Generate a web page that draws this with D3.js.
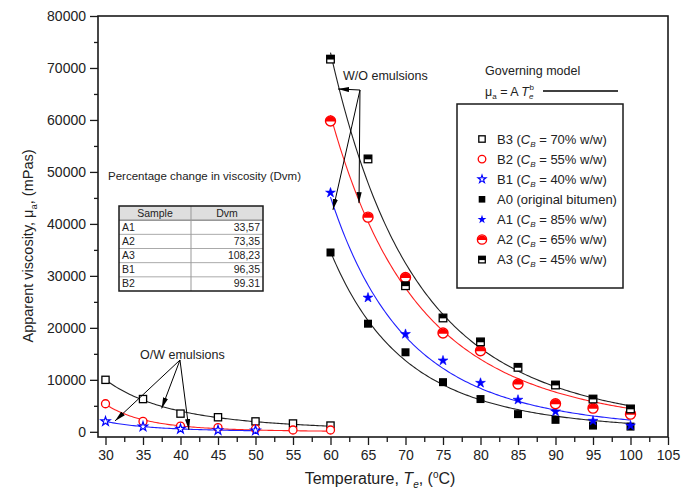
<!DOCTYPE html>
<html>
<head>
<meta charset="utf-8">
<script src="https://cdn.jsdelivr.net/npm/d3@7"></script>
<style>
  html, body { margin: 0; padding: 0; background: #fff; }
  svg { display: block; font-family: "Liberation Sans", Arial, sans-serif; }
</style>
</head>
<body>
<svg id="chart" width="681" height="493"></svg>
<script>
// ---------------- data ----------------
const T_OW = [30, 35, 40, 45, 50, 55, 60];
const T_B1 = [30, 35, 40, 45, 50];
const T_WO = [60, 65, 70, 75, 80, 85, 90, 95, 100];

const B3 = [10000, 6300, 3500, 2800, 2000, 1600, 1200];
const B2 = [5400, 2000, 1100, 800, 550, 350, 350];
const B1 = [2000, 1000, 550, 300, 250];

const A0 = [34500, 20800, 15300, 9550, 6300, 3400, 2300, 1200, 1000];
const A1 = [46000, 25800, 18800, 13700, 9400, 6150, 3900, 2100, 1200];
const A2 = [59800, 41300, 29700, 19000, 15600, 9200, 5400, 4550, 3400];
const A3 = [71700, 52500, 28100, 21900, 17300, 12400, 9000, 6300, 4400];

const xTicks = [30, 35, 40, 45, 50, 55, 60, 65, 70, 75, 80, 85, 90, 95, 100, 105];
const yTicks = [0, 10000, 20000, 30000, 40000, 50000, 60000, 70000, 80000];

const legendLabels = [
  { id: "B3", pre: "B3 (", cb: true, post: " = 70% w/w)" },
  { id: "B2", pre: "B2 (", cb: true, post: " = 55% w/w)" },
  { id: "B1", pre: "B1 (", cb: true, post: " = 40% w/w)" },
  { id: "A0", pre: "A0 (original bitumen)", cb: false, post: "" },
  { id: "A1", pre: "A1 (", cb: true, post: " = 85% w/w)" },
  { id: "A2", pre: "A2 (", cb: true, post: " = 65% w/w)" },
  { id: "A3", pre: "A3 (", cb: true, post: " = 45% w/w)" }
];

const tableSamples = ["A1", "A2", "A3", "B1", "B2"];
const tableDvm = ["33,57", "73,35", "108,23", "96,35", "99.31"];

// ---------------- setup ----------------
const svg = d3.select("#chart");
const L = 98, R = 668, T = 16, B = 437;
const x = d3.scaleLinear().domain([29, 105]).range([L, R]);
const y = d3.scaleLinear().domain([-1000, 80000]).range([B, T]);
const ink = "#1a1a1a";

// ---------------- power-law fit (nonlinear LSQ) ----------------
function fitPower(xs, ys) {
  const n = xs.length;
  const lx = xs.map(Math.log), ly = ys.map(Math.log);
  const mx = d3.mean(lx), my = d3.mean(ly);
  let b = d3.sum(lx.map((v, i) => (v - mx) * (ly[i] - my))) / d3.sum(lx.map(v => (v - mx) ** 2));
  let la = my - b * mx;
  const sse = (la, b) => d3.sum(xs.map((t, i) => (ys[i] - Math.exp(la + b * Math.log(t))) ** 2));
  let lam = 1e-3, cur = sse(la, b);
  for (let it = 0; it < 500; it++) {
    let a11 = 0, a12 = 0, a22 = 0, g1 = 0, g2 = 0;
    for (let i = 0; i < n; i++) {
      const f = Math.exp(la + b * lx[i]);
      const j1 = f, j2 = f * lx[i], r = ys[i] - f;
      a11 += j1 * j1; a12 += j1 * j2; a22 += j2 * j2; g1 += j1 * r; g2 += j2 * r;
    }
    const m11 = a11 * (1 + lam), m22 = a22 * (1 + lam);
    const det = m11 * m22 - a12 * a12;
    const d1 = (g1 * m22 - a12 * g2) / det, d2 = (m11 * g2 - a12 * g1) / det;
    const nla = la + d1, nb = b + d2, ns = sse(nla, nb);
    if (ns < cur) { la = nla; b = nb; cur = ns; lam *= 0.3; } else { lam *= 10; }
    if (lam > 1e12) break;
  }
  return t => Math.exp(la + b * Math.log(t));
}

function drawFit(xs, ys, color) {
  const f = fitPower(xs, ys);
  const ts = d3.range(xs[0], xs[xs.length - 1] + 0.001, 0.25);
  svg.append("path")
    .datum(ts)
    .attr("fill", "none")
    .attr("stroke", color)
    .attr("stroke-width", 1.1)
    .attr("d", d3.line().x(t => x(t)).y(t => y(f(t))));
}

// ---------------- marker drawers ----------------
const markers = {
  B3: g => g.append("rect").attr("x", -3.6).attr("y", -3.6).attr("width", 7.2).attr("height", 7.2)
            .attr("fill", "#fff").attr("stroke", "#000").attr("stroke-width", 1.3),
  B2: g => g.append("circle").attr("r", 4).attr("fill", "#fff").attr("stroke", "#ff0000").attr("stroke-width", 1.3),
  B1: g => g.append("path").attr("d", d3.symbol(d3.symbolStar, 26)()).attr("fill", "#fff")
            .attr("stroke", "#0000ff").attr("stroke-width", 1.2),
  A0: g => g.append("rect").attr("x", -4).attr("y", -4).attr("width", 8).attr("height", 8).attr("fill", "#000"),
  A1: g => g.append("path").attr("d", d3.symbol(d3.symbolStar, 30)()).attr("fill", "#0000ff").attr("stroke", "#0000ff").attr("stroke-width", 0.6),
  A2: g => {
    g.append("circle").attr("r", 5).attr("fill", "#fff").attr("stroke", "#ff0000").attr("stroke-width", 1.4);
    g.append("path").attr("d", "M-5,0.6 A5,5 0 0 1 5,0.6 Z").attr("fill", "#ff0000");
  },
  A3: g => {
    g.append("rect").attr("x", -3.8).attr("y", -3.8).attr("width", 7.6).attr("height", 7.6)
      .attr("fill", "#fff").attr("stroke", "#000").attr("stroke-width", 1.3);
    g.append("rect").attr("x", -3.8).attr("y", -3.8).attr("width", 7.6).attr("height", 4.2).attr("fill", "#000");
  }
};

function drawPoints(xs, ys, id) {
  xs.forEach((t, i) => {
    const g = svg.append("g").attr("transform", `translate(${x(t)},${y(ys[i])})`);
    markers[id](g);
  });
}

// ---------------- fits ----------------
drawFit(T_OW, B3, "#222");
drawFit(T_OW, B2, "#ff2020");
drawFit(T_B1, B1, "#2020ff");
drawFit(T_WO, A3, "#222");
drawFit(T_WO, A2, "#ff2020");
drawFit(T_WO, A1, "#2020ff");
drawFit(T_WO, A0, "#222");

// ---------------- points ----------------
drawPoints(T_OW, B3, "B3");
drawPoints(T_OW, B2, "B2");
drawPoints(T_B1, B1, "B1");
drawPoints(T_WO, A0, "A0");
drawPoints(T_WO, A1, "A1");
drawPoints(T_WO, A2, "A2");
drawPoints(T_WO, A3, "A3");

// ---------------- axes ----------------
const yAxis = svg.append("g").attr("transform", `translate(${L},0)`)
  .call(d3.axisLeft(y).tickValues(yTicks).tickFormat(d3.format("d")).tickSize(8).tickPadding(4).tickSizeOuter(0));
const yMinor = svg.append("g").attr("transform", `translate(${L},0)`)
  .call(d3.axisLeft(y).tickValues(yTicks.slice(0, -1).map(v => v + 5000)).tickSize(4).tickFormat("").tickSizeOuter(0));
const xAxis = svg.append("g").attr("transform", `translate(0,${B})`)
  .call(d3.axisBottom(x).tickValues(xTicks).tickFormat(d3.format("d")).tickSize(8).tickPadding(5).tickSizeOuter(0));
const xMinor = svg.append("g").attr("transform", `translate(0,${B})`)
  .call(d3.axisBottom(x).tickValues(xTicks.slice(0, -1).map(v => v + 2.5)).tickSize(5).tickFormat("").tickSizeOuter(0));

[yAxis, yMinor, xAxis, xMinor].forEach(a => {
  a.select(".domain").remove();
  a.selectAll("line").attr("stroke", ink).attr("stroke-width", 1.3);
  a.selectAll("text").attr("fill", "#222").style("font-size", "14px")
    .style("font-family", '"Liberation Sans", Arial, sans-serif');
});

// frame
svg.append("rect").attr("x", L).attr("y", T).attr("width", R - L).attr("height", B - T)
  .attr("fill", "none").attr("stroke", ink).attr("stroke-width", 1.6);

// axis titles
const xt = svg.append("text").attr("x", 380).attr("y", 484).attr("text-anchor", "middle")
  .attr("fill", "#222").style("font-size", "16px");
xt.append("tspan").text("Temperature, ");
xt.append("tspan").attr("font-style", "italic").text("T");
xt.append("tspan").attr("font-style", "italic").attr("font-size", "10px").attr("dy", 4).text("e");
xt.append("tspan").attr("dy", -4).text(", (");
xt.append("tspan").attr("font-size", "10px").attr("dy", -6).text("o");
xt.append("tspan").attr("dy", 6).text("C)");

const yt = svg.append("text").attr("transform", "translate(33,246) rotate(-90)").attr("text-anchor", "middle")
  .attr("fill", "#222").style("font-size", "14.5px");
yt.append("tspan").text("Apparent viscosity, μ");
yt.append("tspan").attr("font-size", "9.5px").attr("dy", 4).text("a");
yt.append("tspan").attr("dy", -4).text(", (mPas)");

// ---------------- arrows / annotations ----------------
svg.append("defs").append("marker")
  .attr("id", "arr").attr("viewBox", "0 -3 11 6").attr("refX", 11).attr("refY", 0)
  .attr("markerWidth", 11).attr("markerHeight", 6).attr("markerUnits", "userSpaceOnUse")
  .attr("orient", "auto")
  .append("path").attr("d", "M0,-2.6L11,0L0,2.6Z").attr("fill", "#000");

function arrow(from, to) {
  svg.append("line")
    .attr("x1", x(from[0])).attr("y1", y(from[1]))
    .attr("x2", x(to[0])).attr("y2", y(to[1]))
    .attr("stroke", "#000").attr("stroke-width", 1).attr("marker-end", "url(#arr)");
}

// W/O emulsions
svg.append("text").attr("x", x(61.67)).attr("y", y(67700)).attr("fill", "#222")
  .style("font-size", "12.5px").text("W/O emulsions");
arrow([63.93, 65760], [61.0, 65960]);
arrow([63.93, 65760], [63.8, 44000]);
arrow([63.93, 65760], [60.33, 42700]);

// O/W emulsions
svg.append("text").attr("x", x(34.6)).attr("y", y(14000)).attr("fill", "#222")
  .style("font-size", "12.5px").text("O/W emulsions");
arrow([39.93, 13800], [31.27, 2100]);
arrow([39.93, 13800], [37.49, 4500]);
arrow([39.93, 13800], [41.13, 350]);

// ---------------- governing model ----------------
svg.append("text").attr("x", 485).attr("y", 75).attr("fill", "#222").style("font-size", "12.5px").text("Governing model");
const gm = svg.append("text").attr("x", 485).attr("y", 96).attr("fill", "#222").style("font-size", "12.5px");
gm.append("tspan").text("μ");
gm.append("tspan").attr("font-size", "8px").attr("dy", 3).text("a");
gm.append("tspan").attr("dy", -3).text(" = A ");
gm.append("tspan").attr("font-style", "italic").text("T");
gm.append("tspan").attr("font-style", "italic").attr("font-size", "8px").attr("dy", 3).text("e");
gm.append("tspan").attr("font-size", "8px").attr("dy", -9).attr("dx", -4).text("b");
svg.append("line").attr("x1", 543).attr("x2", 618).attr("y1", 91).attr("y2", 91)
  .attr("stroke", "#000").attr("stroke-width", 1.4);

// ---------------- legend ----------------
svg.append("rect").attr("x", 457).attr("y", 104).attr("width", 166).attr("height", 184)
  .attr("fill", "#fff").attr("stroke", ink).attr("stroke-width", 1.5);
legendLabels.forEach((d, i) => {
  const yy = 139 + i * 20.1;
  const g = svg.append("g").attr("transform", `translate(482,${yy})`);
  if (d.id === "A2") {
    g.append("circle").attr("r", 4.6).attr("fill", "#fff").attr("stroke", "#ff0000").attr("stroke-width", 1.4);
    g.append("path").attr("d", "M-4.6,0.6 A4.6,4.6 0 0 1 4.6,0.6 Z").attr("fill", "#ff0000");
  } else if (d.id === "A0") {
    g.append("rect").attr("x", -3.3).attr("y", -3.3).attr("width", 6.6).attr("height", 6.6).attr("fill", "#000");
  } else if (d.id === "B3") {
    g.append("rect").attr("x", -3.2).attr("y", -3.2).attr("width", 6.4).attr("height", 6.4)
      .attr("fill", "#fff").attr("stroke", "#000").attr("stroke-width", 1.3);
  } else if (d.id === "A3") {
    g.append("rect").attr("x", -3.3).attr("y", -3.3).attr("width", 6.6).attr("height", 6.6)
      .attr("fill", "#fff").attr("stroke", "#000").attr("stroke-width", 1.3);
    g.append("rect").attr("x", -3.3).attr("y", -3.3).attr("width", 6.6).attr("height", 3.8).attr("fill", "#000");
  } else if (d.id === "B1") {
    g.append("path").attr("d", d3.symbol(d3.symbolStar, 20)()).attr("fill", "#fff")
      .attr("stroke", "#0000ff").attr("stroke-width", 1.1);
  } else if (d.id === "A1") {
    g.append("path").attr("d", d3.symbol(d3.symbolStar, 24)()).attr("fill", "#0000ff");
  } else {
    g.append("circle").attr("r", 3.8).attr("fill", "#fff").attr("stroke", "#ff0000").attr("stroke-width", 1.3);
  }
  const t = svg.append("text").attr("x", 497).attr("y", yy + 4.5).attr("fill", "#222").style("font-size", "13px");
  t.append("tspan").text(d.pre);
  if (d.cb) {
    t.append("tspan").attr("font-style", "italic").text("C");
    t.append("tspan").attr("font-style", "italic").attr("font-size", "8px").attr("dy", 3).text("B");
    t.append("tspan").attr("dy", -3).text(d.post);
  }
});

// ---------------- table ----------------
svg.append("text").attr("x", 108).attr("y", 180).attr("fill", "#222").style("font-size", "11.5px")
  .text("Percentage change in viscosity (Dvm)");
const tL = 119, tR = 263, tT = 206, tB = 291, tC = 191;
const rowH = (tB - tT) / 6;
svg.append("rect").attr("x", tL).attr("y", tT).attr("width", tR - tL).attr("height", rowH)
  .attr("fill", "#dedede");
for (let i = 1; i < 6; i++) {
  svg.append("line").attr("x1", tL).attr("x2", tR).attr("y1", tT + i * rowH).attr("y2", tT + i * rowH)
    .attr("stroke", i === 1 ? "#666" : "#aaa").attr("stroke-width", 1);
}
svg.append("line").attr("x1", tC).attr("x2", tC).attr("y1", tT).attr("y2", tB).attr("stroke", "#999").attr("stroke-width", 1);
svg.append("rect").attr("x", tL).attr("y", tT).attr("width", tR - tL).attr("height", tB - tT)
  .attr("fill", "none").attr("stroke", ink).attr("stroke-width", 1.5);
svg.append("text").attr("x", (tL + tC) / 2).attr("y", tT + rowH / 2 + 3.5).attr("text-anchor", "middle")
  .attr("fill", "#222").style("font-size", "10.5px").text("Sample");
svg.append("text").attr("x", (tC + tR) / 2).attr("y", tT + rowH / 2 + 3.5).attr("text-anchor", "middle")
  .attr("fill", "#222").style("font-size", "10.5px").text("Dvm");
tableSamples.forEach((s, i) => {
  const cy = tT + (i + 1) * rowH + rowH / 2 + 3.5;
  svg.append("text").attr("x", tL + 3).attr("y", cy).attr("fill", "#222").style("font-size", "10.5px").text(s);
  svg.append("text").attr("x", tR - 3).attr("y", cy).attr("text-anchor", "end").attr("fill", "#222")
    .style("font-size", "10.5px").text(tableDvm[i]);
});
</script>
</body>
</html>
